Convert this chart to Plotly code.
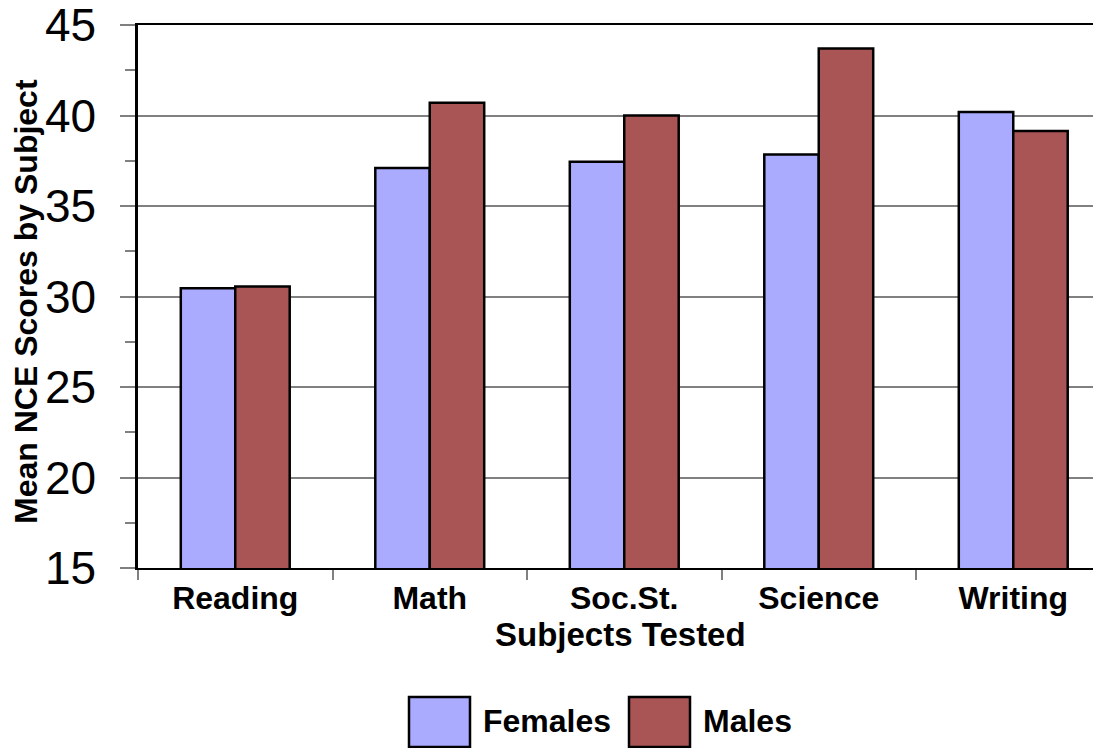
import plotly.graph_objects as go

# Data
SUBJECTS = ["Reading", "Math", "Soc.St.", "Science", "Writing"]
FEMALES = [30.45, 37.1, 37.45, 37.85, 40.2]
MALES = [30.55, 40.7, 40.0, 43.7, 39.15]
Y_TICKS = [15, 20, 25, 30, 35, 40, 45]

FEMALE_COLOR = "#aaaaff"
MALE_COLOR = "#aa5555"
FONT = "Liberation Sans, Arial, sans-serif"

# page body adds an 8px offset, so positions below are screen px minus 8
OFF = 8
PL, PT, PB = 138 - OFF, 25 - OFF, 568 - OFF
W, H = 1101 - PL, PB - PT


def px_x(sx):
    return (sx - OFF - PL) / W


def px_y(sy):
    return (PB - (sy - OFF)) / H


fig = go.Figure()
fig.add_trace(go.Bar(
    x=SUBJECTS, y=FEMALES, name="Females",
    marker=dict(color=FEMALE_COLOR, line=dict(color="black", width=2.5)),
    showlegend=False,
))
fig.add_trace(go.Bar(
    x=SUBJECTS, y=MALES, name="Males",
    marker=dict(color=MALE_COLOR, line=dict(color="black", width=2.5)),
    showlegend=False,
))

fig.update_layout(
    width=1101, height=748,
    margin=dict(l=PL, r=0, t=PT, b=748 - PB, autoexpand=False),
    barmode="group",
    bargap=0.44,
    bargroupgap=0,
    plot_bgcolor="white",
    paper_bgcolor="white",
    font=dict(family=FONT, color="black"),
)

fig.update_xaxes(
    range=[-0.5, -0.5 + W / 194.5],
    automargin=False,
    showline=True, linecolor="black", linewidth=2, mirror=True,
    ticks="outside", tickson="boundaries", ticklen=10, tickwidth=2, tickcolor="#808080",
    tickfont=dict(size=32, family=FONT, weight="bold"),
    ticklabelstandoff=1,
    showgrid=False,
)

fig.update_yaxes(
    range=[15, 45],
    automargin=False,
    tickvals=Y_TICKS,
    showline=True, linecolor="black", linewidth=2.5,
    ticks="outside", ticklen=15, tickwidth=2, tickcolor="#808080",
    tickfont=dict(size=46, family=FONT),
    ticklabelstandoff=15,
    ticklabeloverflow="allow",
    showgrid=True, gridcolor="#808080", gridwidth=2,
    minor=dict(dtick=2.5, ticks="outside", ticklen=10, tickwidth=2, tickcolor="#808080", showgrid=False),
    zeroline=False,
)

# axis titles
fig.add_annotation(
    text="<b>Mean NCE Scores by Subject</b>", xref="paper", yref="paper",
    x=px_x(26), y=px_y(302), xanchor="center", yanchor="middle", textangle=-90,
    showarrow=False, font=dict(size=32, family=FONT, color="black"),
)
fig.add_annotation(
    text="<b>Subjects Tested</b>", xref="paper", yref="paper",
    x=px_x(620), y=px_y(634), xanchor="center", yanchor="middle",
    showarrow=False, font=dict(size=33, family=FONT, color="black"),
)

# Legend drawn as boxes + labels below the plot
legend_items = [("Females", FEMALE_COLOR, 409), ("Males", MALE_COLOR, 629)]
for label, color, x0 in legend_items:
    fig.add_shape(
        type="rect", xref="paper", yref="paper",
        x0=px_x(x0), x1=px_x(x0 + 61),
        y0=px_y(747), y1=px_y(697),
        fillcolor=color, line=dict(color="black", width=2.5),
    )
    fig.add_annotation(
        text=f"<b>{label}</b>", xref="paper", yref="paper",
        x=px_x(x0 + 72), y=px_y(721),
        xanchor="left", yanchor="middle", showarrow=False,
        font=dict(size=32, family=FONT, color="black"),
    )

fig.write_html("out.html")
